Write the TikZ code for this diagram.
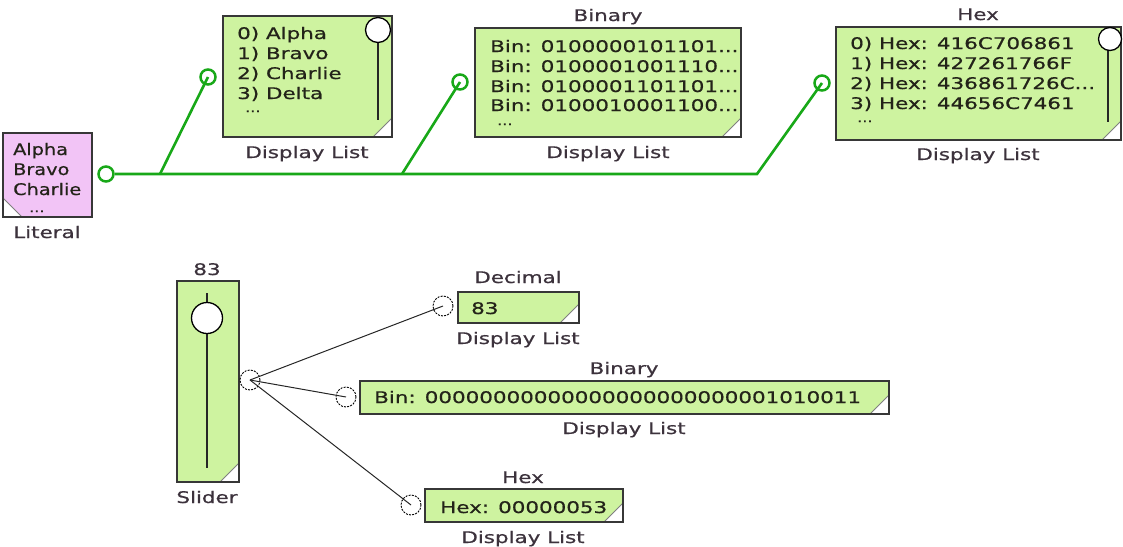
\documentclass[tikz,border=0pt]{standalone}
\usepackage{fontspec}
\setmainfont{DejaVu Sans}[FakeStretch=1.34,FakeBold=0.7]
\usetikzlibrary{calc}
\definecolor{dlfill}{RGB}{206,243,160}
\definecolor{litfill}{RGB}{242,196,246}
\definecolor{wire}{RGB}{24,168,24}
\definecolor{boxline}{RGB}{55,55,55}
\definecolor{txtcol}{RGB}{35,35,25}
\definecolor{lblcol}{RGB}{60,50,60}
\begin{document}
\begin{tikzpicture}[x=1pt,y=-1pt,font=\fontsize{16}{20}\selectfont,
  box/.style={draw=boxline,line width=1.5pt,inner sep=0pt,outer sep=0pt,anchor=north west},
  dlbox/.style={box,fill=dlfill,path picture={
      \fill[white] (path picture bounding box.south east) -- ++(-19,0) -- ++(19,-19) -- cycle;
      \draw[gray,line width=1pt] (path picture bounding box.south east) ++(-19,0) -- ++(19,-19);}},
  litbox/.style={box,fill=litfill,path picture={
      \fill[white] (path picture bounding box.south west) -- ++(19,0) -- ++(-19,-19) -- cycle;
      \draw[gray,line width=1pt] (path picture bounding box.south west) ++(19,0) -- ++(-19,-19);}},
  txt/.style={anchor=base west,inner sep=0pt,text=txtcol},
  littxt/.style={txt,xscale=0.9,transform shape},
  dots/.style={anchor=base west,inner sep=0pt,text=txtcol,font=\fontsize{12}{14}\selectfont},
  lbl/.style={anchor=base,inner sep=0pt,text=lblcol},
  gport/.style={circle,draw=wire,line width=2.5pt,minimum size=15pt,inner sep=0pt},
  bport/.style={circle,draw=black,line width=0.9pt,dash pattern=on 2pt off 1.2pt,minimum size=20pt,inner sep=0pt},
  gwire/.style={draw=wire,line width=2.6pt},
  bwire/.style={draw=black!85,line width=1pt},
  knob/.style={circle,draw=black,fill=white,line width=1.3pt,inner sep=0pt},
  track/.style={draw=black!85,line width=1.5pt}]
\useasboundingbox (0,0) rectangle (1123,546);

% ---------- top part ----------
\node[litbox,minimum width=89pt,minimum height=84pt] (lit) at (3,133) {};
\node[littxt] (la) at (13,155) {Alpha};
\node[littxt] (lb) at (13,175) {Bravo};
\node[littxt] (lc) at (13,195) {Charlie};
\node[dots] (ld) at (29,212) {...};
\node[lbl] (litl) at (47,238) {Literal};

\node[dlbox,minimum width=169pt,minimum height=121pt] (dl1) at (223,16) {};
\node[txt] (d1a) at (237,39) {0) Alpha};
\node[txt] (d1b) at (237,59) {1) Bravo};
\node[txt] (d1c) at (237,79) {2) Charlie};
\node[txt] (d1d) at (237,99) {3) Delta};
\node[dots] (d1e) at (245,112) {...};
\coordinate (s1top) at (378,40);
\coordinate (s1bot) at (378,120);
\draw[track] (s1top) -- (s1bot);
\node[knob,minimum size=25pt] (k1) at (378,30) {};
\node[lbl] (dl1l) at (307,158) {Display List};

\node[lbl] (dl2t) at (608,21) {Binary};
\node[dlbox,minimum width=266pt,minimum height=109pt] (dl2) at (475,28) {};
\node[txt] (d2a) at (490,52) {Bin: 0100000101101...};
\node[txt] (d2b) at (490,72) {Bin: 0100001001110...};
\node[txt] (d2c) at (490,92) {Bin: 0100001101101...};
\node[txt] (d2d) at (490,111) {Bin: 0100010001100...};
\node[dots] (d2e) at (497,125) {...};
\node[lbl] (dl2l) at (608,158) {Display List};

\node[lbl] (dl3t) at (978,20) {Hex};
\node[dlbox,minimum width=285pt,minimum height=113pt] (dl3) at (836,27) {};
\node[txt] (d3a) at (850,49) {0) Hex: 416C706861};
\node[txt] (d3b) at (850,69) {1) Hex: 427261766F};
\node[txt] (d3c) at (850,89) {2) Hex: 436861726C...};
\node[txt] (d3d) at (850,109) {3) Hex: 44656C7461};
\node[dots] (d3e) at (857,122) {...};
\coordinate (s3top) at (1108,48);
\coordinate (s3bot) at (1108,122);
\draw[track] (s3top) -- (s3bot);
\node[knob,minimum size=23pt] (k3) at (1110,39) {};
\node[lbl] (dl3l) at (978,160) {Display List};

\coordinate (j1) at (160,174);
\coordinate (j2) at (402,174);
\coordinate (j3) at (757,174);
\node[gport] (lp) at (106,174) {};
\node[gport] (p1) at (208,77) {};
\node[gport] (p2) at (460,82) {};
\node[gport] (p3) at (822,83) {};
\draw[gwire] (lp.east) -- (j3) -- (p3.center);
\draw[gwire] (j1) -- (p1.center);
\draw[gwire] (j2) -- (p2.center);

% ---------- bottom part ----------
\node[lbl] (slt) at (207,275) {83};
\node[dlbox,minimum width=62pt,minimum height=201pt] (sl) at (177,281) {};
\coordinate (sltop) at (207,293);
\coordinate (slbot) at (207,468);
\draw[track] (sltop) -- (slbot);
\node[knob,minimum size=31pt] (sk) at (207,318) {};
\node[lbl] (sll) at (207,503) {Slider};

\node[lbl] (dect) at (518,283) {Decimal};
\node[dlbox,minimum width=121pt,minimum height=31pt] (dec) at (458,292) {};
\node[txt] (decv) at (471,314) {83};
\node[lbl] (decl) at (518,344) {Display List};

\node[lbl] (bint) at (624,374) {Binary};
\node[dlbox,minimum width=529pt,minimum height=33pt] (bin) at (360,381) {};
\node[txt] (binv) at (374,403) {Bin: 00000000000000000000000001010011};
\node[lbl] (binl) at (624,434) {Display List};

\node[lbl] (hext) at (523,483) {Hex};
\node[dlbox,minimum width=198pt,minimum height=33pt] (hex) at (425,489) {};
\node[txt] (hexv) at (440,513) {Hex: 00000053};
\node[lbl] (hexl) at (523,543) {Display List};

\node[bport] (sp) at (250,380) {};
\node[bport] (decp) at (443,306) {};
\node[bport] (binp) at (346,397) {};
\node[bport] (hexp) at (411,505) {};
\draw[bwire] (sp.center) -- (decp.center);
\draw[bwire] (sp.center) -- (binp.center);
\draw[bwire] (sp.center) -- (hexp.center);
\end{tikzpicture}
\end{document}
